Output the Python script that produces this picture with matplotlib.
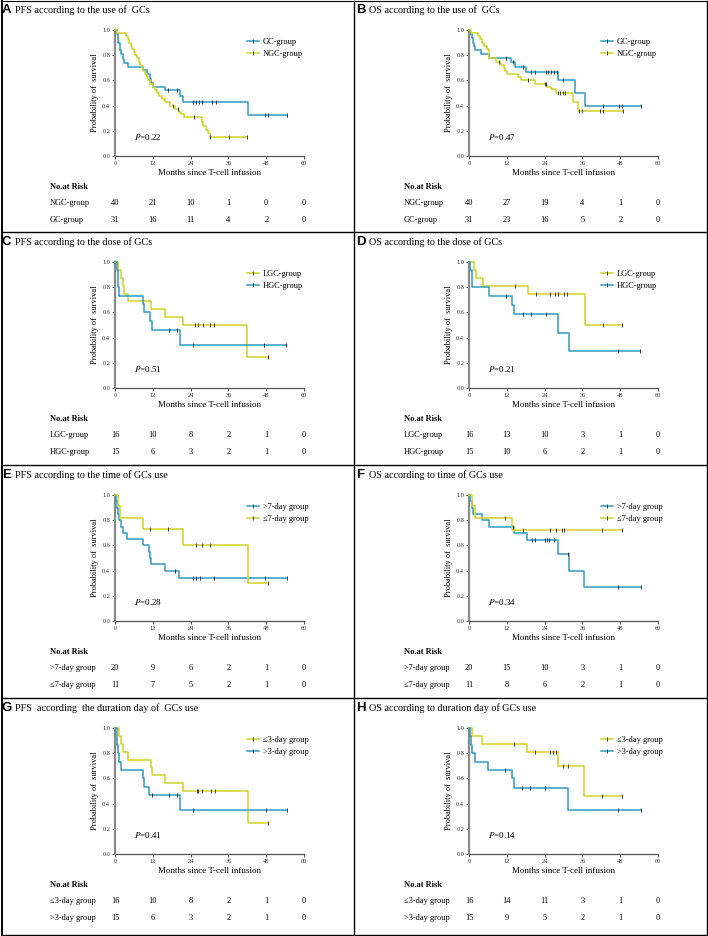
import numpy as np
import matplotlib
matplotlib.use("Agg")
import matplotlib.pyplot as plt
from matplotlib.lines import Line2D
from matplotlib import transforms

plt.rcParams['font.family'] = ['Liberation Serif', 'DejaVu Serif']
plt.rcParams['mathtext.fontset'] = 'stix'

BLUE = '#2f9cc4'
YELLOW = '#d2d226'
CENS = '#222222'

W, H = 708, 936
COL_X = [0, 354]
ROW_Y = [0, 232, 465, 698]

months = [0, 12, 24, 36, 48, 60]

# ---- A: PFS, use of GCs
A_gc_t = [0, 0.5, 1.0, 1.5, 2.0, 2.5, 3.0, 4.0, 9.0, 10.0, 11.0, 11.5, 12.0, 15.9, 20.6, 21.7, 42.1, 54.7]
A_gc_s = [1.0, 0.97, 0.90, 0.84, 0.81, 0.77, 0.74, 0.71, 0.68, 0.65, 0.61, 0.58, 0.55, 0.52, 0.48, 0.43, 0.325, 0.325]
A_gc_c = [16.9, 19.6, 24.9, 25.7, 26.7, 27.7, 30.7, 32.0, 47.6, 48.7, 54.7]
A_ngc_t = [0, 0.5, 3.5, 4.0, 4.5, 5.0, 5.5, 6.0, 6.5, 7.0, 7.5, 8.0, 8.5, 9.0, 9.5, 10.0, 10.5, 11.0,
           12.0, 12.8, 13.3, 14.0, 15.0, 16.0, 17.5, 19.0, 20.3, 21.0, 22.0, 27.5, 28.0, 28.8, 29.5, 30.0, 41.8]
A_ngc_s = [1.0, 0.975, 0.95, 0.925, 0.90, 0.875, 0.85, 0.825, 0.80, 0.775, 0.75, 0.725, 0.70, 0.675, 0.65, 0.625, 0.60, 0.575,
           0.55, 0.525, 0.50, 0.475, 0.45, 0.425, 0.40, 0.375, 0.35, 0.33, 0.31, 0.27, 0.24, 0.21, 0.18, 0.15, 0.15]
A_ngc_c = [18.5, 20.0, 25.0, 30.2, 36.3, 41.8]
A_risk_ngc = [40, 21, 10, 1, 0, 0]
A_risk_gc = [31, 16, 11, 4, 2, 0]

# ---- B: OS, use of GCs
B_gc_t = [0, 0.3, 0.8, 1.2, 1.5, 1.8, 3.7, 6.5, 13.4, 14.5, 18.1, 28.4, 33.6, 36.8, 54.5]
B_gc_s = [1.0, 0.97, 0.94, 0.90, 0.87, 0.84, 0.81, 0.775, 0.745, 0.71, 0.67, 0.60, 0.50, 0.40, 0.40]
B_gc_c = [11.8, 14.0, 17.3, 19.7, 20.8, 24.5, 25.0, 26.0, 27.1, 27.8, 29.7, 42.4, 47.7, 48.5, 54.5]
B_ngc_t = [0, 0.7, 3.0, 3.6, 4.2, 4.9, 5.7, 6.2, 6.5, 8.6, 10.2, 11.0, 11.5, 12.1, 15.7, 16.6, 20.8, 24.8,
           26.0, 27.6, 32.9, 34.7, 48.8]
B_ngc_s = [1.0, 0.975, 0.95, 0.925, 0.90, 0.875, 0.85, 0.825, 0.775, 0.75, 0.725, 0.70, 0.675, 0.65, 0.625, 0.60, 0.57, 0.55,
           0.53, 0.50, 0.43, 0.355, 0.355]
B_ngc_c = [9.5, 18.7, 24.0, 24.5, 28.2, 29.0, 29.7, 30.5, 35.0, 36.0, 41.6, 42.4, 48.8]
B_risk_ngc = [40, 27, 19, 4, 1, 0]
B_risk_gc = [31, 23, 16, 5, 2, 0]

# ---- C: PFS, dose of GCs
C_lgc_t = [0, 1.0, 1.8, 2.4, 2.8, 4.2, 11.5, 16.0, 21.5, 42.0, 48.6]
C_lgc_s = [1.0, 0.9375, 0.875, 0.8125, 0.75, 0.6875, 0.625, 0.5625, 0.50, 0.25, 0.25]
C_lgc_c = [25.5, 26.3, 27.8, 30.1, 31.5, 48.6]
C_hgc_t = [0, 0.5, 0.8, 1.0, 1.3, 8.9, 9.1, 11.0, 11.8, 20.5, 54.3]
C_hgc_s = [1.0, 0.933, 0.867, 0.80, 0.733, 0.667, 0.60, 0.533, 0.46, 0.345, 0.345]
C_hgc_c = [17.3, 19.6, 24.9, 47.2, 54.3]
C_risk_lgc = [16, 10, 8, 2, 1, 0]
C_risk_hgc = [15, 6, 3, 2, 1, 0]

# ---- D: OS, dose of GCs
D_lgc_t = [0, 1.6, 2.2, 4.3, 18.6, 36.8, 48.5]
D_lgc_s = [1.0, 0.9375, 0.875, 0.8125, 0.75, 0.50, 0.50]
D_lgc_c = [14.5, 21.3, 25.8, 27.2, 28.1, 30.2, 31.2, 42.4, 48.5]
D_hgc_t = [0, 0.3, 0.8, 1.0, 6.4, 13.7, 14.4, 28.4, 31.7, 54.2]
D_hgc_s = [1.0, 0.933, 0.867, 0.80, 0.733, 0.66, 0.587, 0.44, 0.295, 0.295]
D_hgc_c = [11.8, 17.0, 19.7, 24.4, 47.4, 54.2]
D_risk_lgc = [16, 13, 10, 3, 1, 0]
D_risk_hgc = [15, 10, 6, 2, 1, 0]

# ---- E: PFS, time of GCs use
E_gt7_t = [0, 0.4, 0.7, 1.0, 1.3, 2.0, 2.6, 3.9, 9.0, 10.8, 11.2, 11.5, 15.8, 20.3, 54.7]
E_gt7_s = [1.0, 0.95, 0.90, 0.85, 0.80, 0.75, 0.70, 0.65, 0.60, 0.55, 0.50, 0.45, 0.40, 0.343, 0.343]
E_gt7_c = [19.2, 24.9, 25.6, 27.0, 31.4, 47.6, 54.7]
E_le7_t = [0, 1.0, 1.6, 9.0, 21.6, 42.2, 48.7]
E_le7_s = [1.0, 0.91, 0.82, 0.727, 0.606, 0.303, 0.303]
E_le7_c = [11.1, 16.9, 25.8, 27.7, 30.2, 48.7]
E_risk_gt7 = [20, 9, 6, 2, 1, 0]
E_risk_le7 = [11, 7, 5, 2, 1, 0]

# ---- F: OS, time of GCs use
F_gt7_t = [0, 0.4, 1.05, 1.3, 4.2, 6.3, 14.2, 18.4, 28.4, 31.6, 36.5, 54.5]
F_gt7_s = [1.0, 0.95, 0.90, 0.85, 0.80, 0.75, 0.70, 0.64, 0.535, 0.40, 0.267, 0.267]
F_gt7_c = [14.0, 20.0, 21.1, 24.2, 24.7, 25.5, 27.1, 31.5, 47.4, 54.5]
F_le7_t = [0, 1.05, 1.9, 13.7, 48.7]
F_le7_s = [1.0, 0.91, 0.82, 0.72, 0.72]
F_le7_c = [11.4, 17.2, 25.8, 27.7, 29.5, 30.0, 42.3, 48.7]
F_risk_gt7 = [20, 15, 10, 3, 1, 0]
F_risk_le7 = [11, 8, 6, 2, 1, 0]

# ---- G: PFS, duration of GCs use
G_le3_t = [0, 1.3, 2.0, 2.6, 4.1, 11.5, 11.9, 15.9, 21.7, 42.2, 48.7]
G_le3_s = [1.0, 0.9375, 0.875, 0.8125, 0.75, 0.6875, 0.625, 0.5625, 0.50, 0.25, 0.25]
G_le3_c = [25.9, 26.2, 27.7, 30.4, 31.6, 48.7]
G_gt3_t = [0, 0.5, 0.7, 1.0, 1.3, 2.0, 9.0, 9.2, 10.8, 20.6, 54.7]
G_gt3_s = [1.0, 0.933, 0.867, 0.80, 0.733, 0.667, 0.60, 0.533, 0.467, 0.35, 0.35]
G_gt3_c = [11.6, 17.1, 19.8, 24.9, 47.8, 54.7]
G_risk_le3 = [16, 10, 8, 2, 1, 0]
G_risk_gt3 = [15, 6, 3, 2, 1, 0]

# ---- H: OS, duration of GCs use
H_le3_t = [0, 1.05, 4.0, 18.4, 28.2, 36.6, 48.7]
H_le3_s = [1.0, 0.9375, 0.875, 0.8125, 0.70, 0.46, 0.46]
H_le3_c = [14.2, 21.1, 25.6, 26.8, 27.7, 29.7, 31.4, 42.3, 48.7]
H_gt3_t = [0, 0.3, 0.7, 1.05, 1.8, 6.1, 13.5, 14.2, 31.4, 54.5]
H_gt3_s = [1.0, 0.933, 0.867, 0.80, 0.733, 0.667, 0.60, 0.52, 0.347, 0.347]
H_gt3_c = [11.3, 16.8, 19.5, 24.2, 47.4, 54.5]
H_risk_le3 = [16, 14, 11, 3, 1, 0]
H_risk_gt3 = [15, 9, 5, 2, 1, 0]


def fx(px):
    return px / W


def fy(py):
    return 1 - py / H


def draw_panel(fig, col, row, letter, title, curves, pval, risk):
    """curves: list of (label, color, t, s, censors) in legend order
    risk: list of (label, counts) in table order"""
    x0, y0 = COL_X[col], ROW_Y[row]
    ax = fig.add_axes([fx(x0 + 115), fy(y0 + 156), (304 - 115) / W, (156 - 30) / H])

    handles = []
    for label, color, t, s, cens in curves:
        ax.step(t, s, where='post', color=color, lw=1.1, clip_on=False, zorder=3)
        idx = np.searchsorted(t, cens, side='right') - 1
        ax.plot(cens, np.array(s)[idx], ls='none', marker='|', ms=2.2, mew=0.6,
                color=CENS, clip_on=False, zorder=4)
        handles.append(Line2D([0], [0], color=color, lw=1.1, marker='|', ms=2.2,
                              mew=0.6, mec=CENS))

    ax.set_xlim(0, 60)
    ax.set_ylim(0, 1.0)
    ax.set_xticks(months)
    ax.set_yticks(np.arange(0, 1.01, 0.2))
    ax.set_yticklabels([f"{v:.1f}" for v in np.arange(0, 1.01, 0.2)])
    ax.spines['top'].set_visible(False)
    ax.spines['right'].set_visible(False)
    ax.spines['left'].set_color('#8a8a8a')
    ax.spines['left'].set_linewidth(1.6)
    ax.spines['bottom'].set_color('#555555')
    ax.spines['bottom'].set_linewidth(0.9)
    ax.tick_params(direction='out', length=2, width=0.6, labelsize=4.6, pad=1.5,
                   colors='#333333')
    ax.set_xlabel('Months since T-cell infusion', fontsize=6.5, labelpad=2)
    ax.set_ylabel('Probability of  survival', fontsize=6, labelpad=2)

    ax.legend(handles, [c[0] for c in curves], loc='upper left', bbox_to_anchor=(0.68, 0.96),
              frameon=False, fontsize=6, handlelength=1.4, handletextpad=0.5,
              labelspacing=0.45, borderaxespad=0)
    ax.text(0.1, 0.15, r'$P$=' + pval, transform=ax.transAxes, fontsize=6.5, va='center')

    # titles
    fig.text(fx(x0 + 2), fy(y0 + 10), letter, family='Liberation Sans', weight='bold',
             fontsize=9.5, va='center')
    fig.text(fx(x0 + 15), fy(y0 + 10), title, fontsize=7.3, va='center')

    # number at risk table
    trans = transforms.blended_transform_factory(ax.transData, fig.transFigure)
    fig.text(fx(x0 + 50), fy(y0 + 187), 'No.at Risk', fontsize=6, weight='bold', va='center')
    for k, (lab, counts) in enumerate(risk):
        yy = fy(y0 + 203 + 17 * k)
        fig.text(fx(x0 + 50), yy, lab, fontsize=6, va='center')
        for m, v in zip(months, counts):
            ax.text(m, yy, str(v), transform=trans, fontsize=6, ha='center', va='center',
                    clip_on=False)
    return ax


fig = plt.figure(figsize=(W / 100, H / 100), dpi=100)

draw_panel(fig, 0, 0, 'A', 'PFS according to the use of  GCs',
           [('GC-group', BLUE, A_gc_t, A_gc_s, A_gc_c),
            ('NGC-group', YELLOW, A_ngc_t, A_ngc_s, A_ngc_c)],
           '0.22', [('NGC-group', A_risk_ngc), ('GC-group', A_risk_gc)])
draw_panel(fig, 1, 0, 'B', 'OS according to the use of  GCs',
           [('GC-group', BLUE, B_gc_t, B_gc_s, B_gc_c),
            ('NGC-group', YELLOW, B_ngc_t, B_ngc_s, B_ngc_c)],
           '0.47', [('NGC-group', B_risk_ngc), ('GC-group', B_risk_gc)])
draw_panel(fig, 0, 1, 'C', 'PFS according to the dose of GCs',
           [('LGC-group', YELLOW, C_lgc_t, C_lgc_s, C_lgc_c),
            ('HGC-group', BLUE, C_hgc_t, C_hgc_s, C_hgc_c)],
           '0.51', [('LGC-group', C_risk_lgc), ('HGC-group', C_risk_hgc)])
draw_panel(fig, 1, 1, 'D', 'OS according to the dose of GCs',
           [('LGC-group', YELLOW, D_lgc_t, D_lgc_s, D_lgc_c),
            ('HGC-group', BLUE, D_hgc_t, D_hgc_s, D_hgc_c)],
           '0.21', [('LGC-group', D_risk_lgc), ('HGC-group', D_risk_hgc)])
draw_panel(fig, 0, 2, 'E', 'PFS according to the time of GCs use',
           [('>7-day group', BLUE, E_gt7_t, E_gt7_s, E_gt7_c),
            ('≤7-day group', YELLOW, E_le7_t, E_le7_s, E_le7_c)],
           '0.28', [('>7-day group', E_risk_gt7), ('≤7-day group', E_risk_le7)])
draw_panel(fig, 1, 2, 'F', 'OS according to time of GCs use',
           [('>7-day group', BLUE, F_gt7_t, F_gt7_s, F_gt7_c),
            ('≤7-day group', YELLOW, F_le7_t, F_le7_s, F_le7_c)],
           '0.34', [('>7-day group', F_risk_gt7), ('≤7-day group', F_risk_le7)])
draw_panel(fig, 0, 3, 'G', 'PFS  according  the duration day of  GCs use',
           [('≤3-day group', YELLOW, G_le3_t, G_le3_s, G_le3_c),
            ('>3-day group', BLUE, G_gt3_t, G_gt3_s, G_gt3_c)],
           '0.41', [('≤3-day group', G_risk_le3), ('>3-day group', G_risk_gt3)])
draw_panel(fig, 1, 3, 'H', 'OS according to duration day of GCs use',
           [('≤3-day group', YELLOW, H_le3_t, H_le3_s, H_le3_c),
            ('>3-day group', BLUE, H_gt3_t, H_gt3_s, H_gt3_c)],
           '0.14', [('≤3-day group', H_risk_le3), ('>3-day group', H_risk_gt3)])

# panel borders
def border(xa, ya, xb, yb, lw=1.0):
    fig.add_artist(Line2D([fx(xa), fx(xb)], [fy(ya), fy(yb)], transform=fig.transFigure,
                          color='black', lw=lw))

border(1.5, 0.5, 706.5, 0.5, 0.8)
border(1.5, 934.5, 706.5, 934.5)
border(1.5, 0.5, 1.5, 934.5, 1.4)
border(706.5, 0.5, 706.5, 934.5)
border(354, 0.5, 354, 934.5)
for yb in ROW_Y[1:]:
    border(1.5, yb, 706.5, yb)

fig.savefig('out.png', dpi=100)
